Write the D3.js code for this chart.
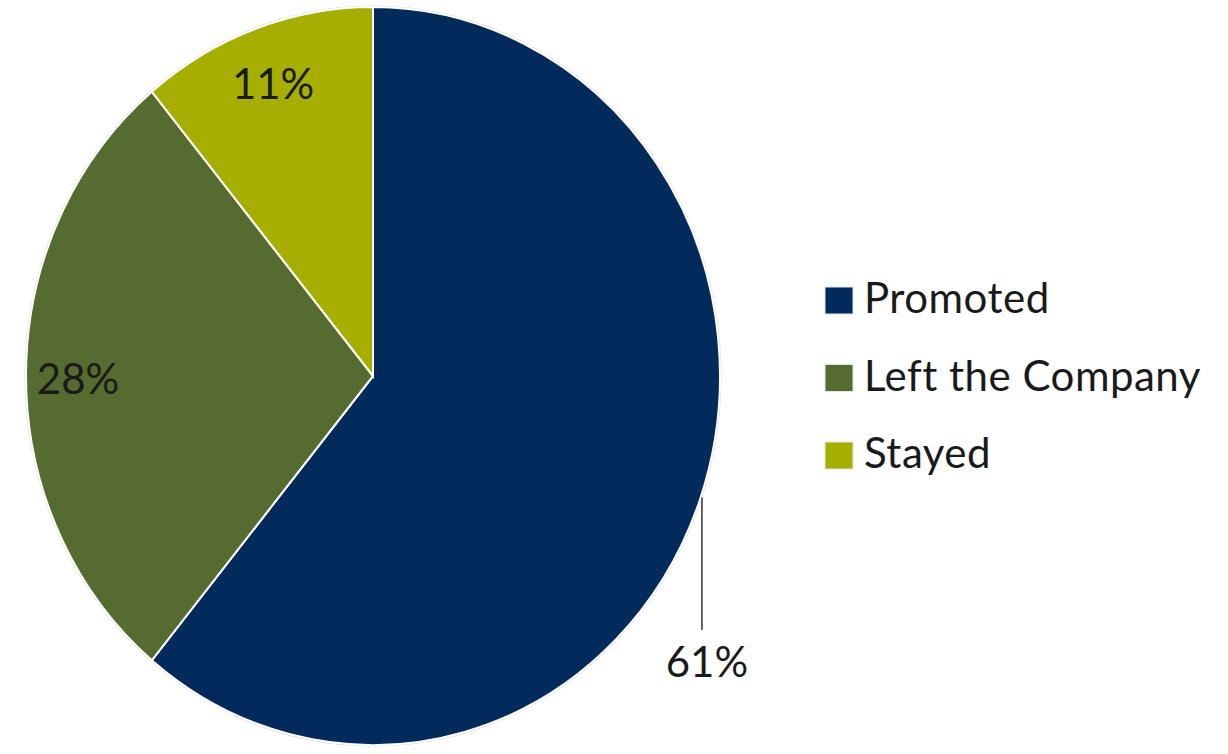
<!DOCTYPE html>
<html>
<head>
<meta charset="utf-8">
<script src="https://cdn.jsdelivr.net/npm/d3@7"></script>
<style>
  body { margin: 0; background: #fff; }
  svg text { font-family: Lato, "Open Sans", sans-serif; fill: #1a1a1a; }
</style>
</head>
<body>
<div id="chart"></div>
<script>
// data
const categories = ["Promoted", "Left the Company", "Stayed"];
const values = [61, 28, 11];
const colors = ["#022b5c", "#556b2f", "#a6ae00"];

const width = 1228, height = 754;
const cx = 373, cy = 376;
const rx = 347, ry = 369; // the original is a bit stretched vertically
const sy = ry / rx;

const svg = d3.select("#chart").append("svg")
    .attr("width", width)
    .attr("height", height);

const data = categories.map((c, i) => ({ name: c, value: values[i], color: colors[i] }));

const pie = d3.pie().sort(null).value(d => d.value);
const arcs = pie(data);
const arc = d3.arc().innerRadius(0).outerRadius(rx);

const g = svg.append("g")
    .attr("transform", `translate(${cx},${cy}) scale(1,${sy})`);

// soft grey rim
g.append("circle")
    .attr("r", rx + 1.5)
    .attr("fill", "#d9d9d9");

g.selectAll("path.slice")
    .data(arcs)
    .enter()
    .append("path")
    .attr("class", "slice")
    .attr("d", arc)
    .attr("fill", d => d.data.color)
    .attr("stroke", "#fff")
    .attr("stroke-width", 2);

// labels
arcs.forEach((d, i) => {
    const mid = (d.startAngle + d.endAngle) / 2;
    let x, y;
    if (i === 0) {
        // leader line goes straight down from the rim
        const a = 1.895;
        const ex = Math.sin(a) * rx, ey = -Math.cos(a) * rx * sy;
        svg.append("line")
            .attr("x1", cx + ex).attr("y1", cy + ey + 4)
            .attr("x2", cx + ex).attr("y2", 630)
            .attr("stroke", "#333")
            .attr("stroke-width", 1.5);
        x = cx + ex + 5;
        y = 677;
    } else {
        const rr = 0.85 * rx;
        x = cx + Math.sin(mid) * rr;
        y = cy - Math.cos(mid) * rr * sy + 18;
    }
    svg.append("text")
        .attr("x", x)
        .attr("y", y)
        .attr("text-anchor", "middle")
        .style("font-size", "42px")
        .text(d.data.value + "%");
});

// legend
const legend = svg.append("g").attr("transform", "translate(825,287)");
const item = legend.selectAll("g.item")
    .data(data)
    .enter()
    .append("g")
    .attr("class", "item")
    .attr("transform", (d, i) => `translate(0,${i * 77.5})`);

item.append("rect")
    .attr("width", 28)
    .attr("height", 27)
    .attr("fill", d => d.color)
    .attr("stroke", "#e0e4e8")
    .attr("stroke-width", 1);

item.append("text")
    .attr("x", 39)
    .attr("y", 26)
    .style("font-size", "42px")
    .style("letter-spacing", "0.5px")
    .text(d => d.name);
</script>
</body>
</html>
